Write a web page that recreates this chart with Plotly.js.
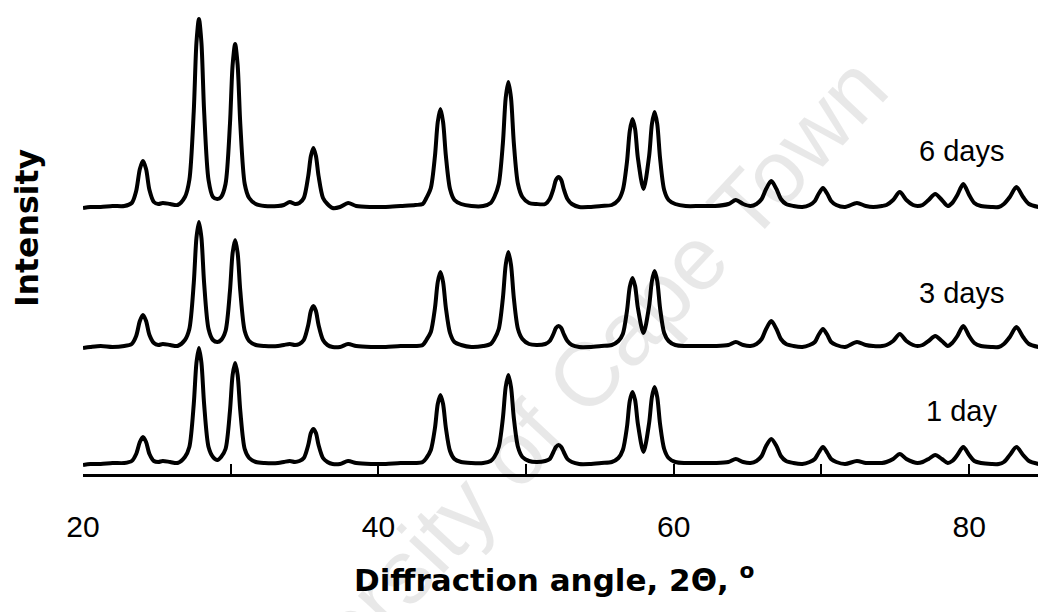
<!DOCTYPE html>
<html>
<head>
<meta charset="utf-8">
<script src="https://cdn.plot.ly/plotly-3.0.1.min.js"></script>
<style>
  html, body { margin: 0; padding: 0; background: #fff; }
  #chart { width: 1038px; height: 612px; }
</style>
</head>
<body>
<div id="chart"></div>
<script>
// XRD patterns of the product after 1, 3 and 6 days (intensity in a.u. above background)
const twoTheta = [
  20.0, 20.5, 21.2, 22.0, 22.8, 23.3, 23.6, 23.85, 24.06, 24.27, 24.5, 24.8, 25.1, 25.4, 25.9, 26.4,
  26.9, 27.2, 27.5, 27.68, 27.85, 28.02, 28.2, 28.5, 28.8, 29.1, 29.35, 29.65, 29.95, 30.13, 30.3, 30.47,
  30.65, 30.95, 31.25, 31.7, 32.3, 33.2, 33.6, 34.0, 34.35, 34.65, 34.95, 35.25, 35.43, 35.6, 35.77, 35.95,
  36.25, 36.55, 36.9, 37.4, 37.95, 38.5, 39.5, 40.5, 41.5, 42.5, 43.0, 43.25, 43.55, 43.83, 44.02, 44.2,
  44.38, 44.57, 44.85, 45.15, 45.6, 46.3, 47.1, 47.6, 47.85, 48.15, 48.43, 48.62, 48.8, 48.98, 49.17, 49.45,
  49.75, 50.2, 50.7, 51.3, 51.6, 51.85, 52.02, 52.2, 52.38, 52.55, 52.8, 53.1, 53.6, 54.3, 55.1, 55.8,
  56.25, 56.55, 56.83, 57.02, 57.2, 57.38, 57.57, 57.95, 58.33, 58.52, 58.7, 58.88, 59.07, 59.35, 59.65, 60.1,
  60.8, 61.8, 62.8, 63.7, 64.2, 64.7, 65.2, 65.6, 65.95, 66.25, 66.6, 66.95, 67.25, 67.6, 68.1, 68.7,
  69.2, 69.55, 69.8, 70.1, 70.4, 70.65, 71.0, 71.6, 72.4, 73.0, 73.5, 74.1, 74.4, 74.85, 75.3, 75.75,
  76.2, 76.5, 76.85, 77.25, 77.7, 78.15, 78.55, 78.85, 79.2, 79.6, 80.0, 80.35, 80.8, 81.5, 82.0, 82.35,
  82.75, 83.2, 83.65, 84.05, 84.7
];

const intensity1day = [
  -1, 0, 0, 1, 1, 3, 10, 22, 27, 22, 10, 3, 2, 3, 2, 1,
  7, 17, 60, 101, 116, 101, 60, 17, 7, 4, 7, 15, 53, 89, 101, 89,
  53, 15, 6, 2, 1, 1, 2, 3, 2, 3, 6, 19, 31, 35, 31, 19,
  6, 2, 0, 0, 3, 1, 0, 0, 1, 1, 2, 6, 14, 36, 60, 69,
  60, 36, 13, 5, 2, 1, 1, 3, 7, 17, 46, 77, 89, 77, 46, 17,
  7, 3, 2, 3, 5, 12, 17, 19, 17, 12, 5, 2, 0, 0, 1, 2,
  6, 14, 37, 63, 72, 64, 40, 12, 41, 67, 77, 67, 40, 15, 6, 2,
  1, 1, 1, 2, 5, 2, 1, 3, 8, 18, 25, 18, 8, 3, 1, 0,
  2, 5, 11, 17, 11, 5, 2, 0, 3, 1, 1, 1, 2, 5, 10, 5,
  2, 1, 2, 5, 9, 5, 1, 3, 9, 17, 9, 3, 1, 0, 0, 2,
  9, 17, 9, 3, 0
];

const intensity3days = [
  -1, 0, 1, 0, 1, 3, 11, 26, 32, 26, 12, 4, 2, 3, 2, 1,
  7, 18, 64, 109, 125, 109, 64, 18, 7, 5, 7, 16, 56, 94, 107, 94,
  56, 16, 6, 2, 1, 1, 2, 3, 2, 3, 7, 22, 36, 41, 36, 22,
  7, 2, 0, 0, 3, 1, 0, 0, 1, 1, 2, 7, 15, 39, 65, 75,
  65, 39, 14, 5, 2, 0, 1, 3, 8, 18, 49, 82, 95, 82, 49, 18,
  8, 3, 2, 3, 6, 13, 19, 21, 19, 13, 6, 2, 0, 0, 1, 2,
  6, 13, 36, 60, 69, 61, 39, 14, 41, 66, 76, 66, 39, 14, 6, 2,
  1, 1, 1, 2, 5, 2, 1, 3, 8, 18, 26, 18, 8, 3, 1, 0,
  2, 5, 12, 18, 12, 5, 2, 0, 5, 2, 1, 1, 2, 6, 13, 6,
  2, 1, 2, 6, 11, 6, 1, 4, 11, 21, 11, 4, 1, 0, 0, 3,
  10, 20, 10, 3, 0
];

const intensity6days = [
  -1, 0, 0, 1, 1, 4, 16, 38, 46, 38, 17, 5, 3, 4, 3, 2,
  10, 27, 96, 164, 188, 164, 96, 27, 10, 8, 10, 23, 83, 142, 163, 142,
  83, 23, 9, 3, 1, 1, 2, 5, 3, 4, 9, 31, 51, 59, 51, 31,
  9, 3, -1, 0, 4, 1, 0, 0, 1, 2, 3, 9, 19, 51, 85, 98,
  85, 51, 18, 7, 3, 1, 1, 4, 10, 23, 64, 109, 125, 109, 64, 23,
  10, 4, 3, 3, 8, 18, 27, 30, 27, 18, 8, 3, 0, 0, 1, 2,
  7, 17, 45, 76, 88, 78, 49, 18, 51, 83, 95, 83, 49, 17, 7, 3,
  1, 1, 1, 3, 7, 3, 1, 3, 8, 18, 26, 18, 8, 3, 1, 0,
  2, 6, 13, 19, 13, 6, 2, 0, 4, 1, 0, 1, 2, 7, 15, 7,
  2, 1, 2, 7, 13, 7, 1, 4, 12, 23, 12, 4, 1, 0, 0, 3,
  10, 20, 10, 3, 0
];

// vertical stacking of the three patterns
const sampleLabels = ['1 day', '3 days', '6 days'];
const stackOffsets = [10, 127, 267];
const patterns = [intensity1day, intensity3days, intensity6days];

const traces = patterns.map((vals, i) => ({
  type: 'scatter',
  mode: 'lines',
  name: sampleLabels[i],
  x: twoTheta,
  y: vals.map(v => v + stackOffsets[i]),
  line: { color: '#000', width: 4, shape: 'spline', smoothing: 0.8 },
  hoverinfo: 'skip'
}));

const fontFamily = 'Arial, "Liberation Sans", sans-serif';
const titleFamily = '"DejaVu Sans", Verdana, sans-serif';
const labelFont = { family: fontFamily, size: 29, color: '#000' };
const labelX = 79.5;
const labelY = [63, 181, 323];

const annotations = [
  {
    // watermark, drawn translucent so the black traces stay black where it crosses them
    text: 'University of Cape Town',
    xref: 'paper', yref: 'paper', x: 0.4785, y: 0.105,
    xanchor: 'center', yanchor: 'middle', showarrow: false,
    textangle: -47,
    font: { family: fontFamily, size: 90, color: 'rgba(0,0,0,0.09)' }
  },
  {
    text: '<b>Diffraction angle, 2Θ, <sup>o</sup></b>',
    xref: 'paper', yref: 'paper', x: 0.493, y: -0.224,
    xanchor: 'center', yanchor: 'middle', showarrow: false,
    font: { family: titleFamily, size: 31, color: '#000' }
  },
  {
    text: '<b>Intensity</b>',
    xref: 'paper', yref: 'paper', x: -0.0586, y: 0.53,
    xanchor: 'center', yanchor: 'middle', showarrow: false,
    textangle: -90,
    font: { family: titleFamily, size: 31.5, color: '#000' }
  }
].concat(sampleLabels.map((t, i) => ({
  text: t, xref: 'x', yref: 'y', x: labelX, y: labelY[i],
  xanchor: 'center', yanchor: 'middle', showarrow: false, font: labelFont
})));

const layout = {
  width: 1038, height: 612,
  margin: { l: 83, r: 0, t: 10, b: 138, pad: 0 },
  paper_bgcolor: '#fff', plot_bgcolor: '#fff',
  showlegend: false,
  font: { family: fontFamily, color: '#000' },
  xaxis: {
    range: [20, 84.66],
    tickmode: 'linear', tick0: 20, dtick: 20,
    ticks: 'inside', ticklen: 10, tickwidth: 2, tickcolor: '#000',
    minor: { dtick: 10, tick0: 20, ticks: 'inside', ticklen: 10, tickwidth: 2, tickcolor: '#000', showgrid: false },
    showline: true, linewidth: 3, linecolor: '#000',
    showgrid: false, zeroline: false,
    tickfont: { size: 30, color: '#000' },
    ticklabelstandoff: 24
  },
  yaxis: { range: [0, 464], visible: false, showgrid: false, zeroline: false },
  annotations: annotations
};

Plotly.newPlot('chart', traces, layout, { staticPlot: true, displayModeBar: false });
</script>
</body>
</html>
